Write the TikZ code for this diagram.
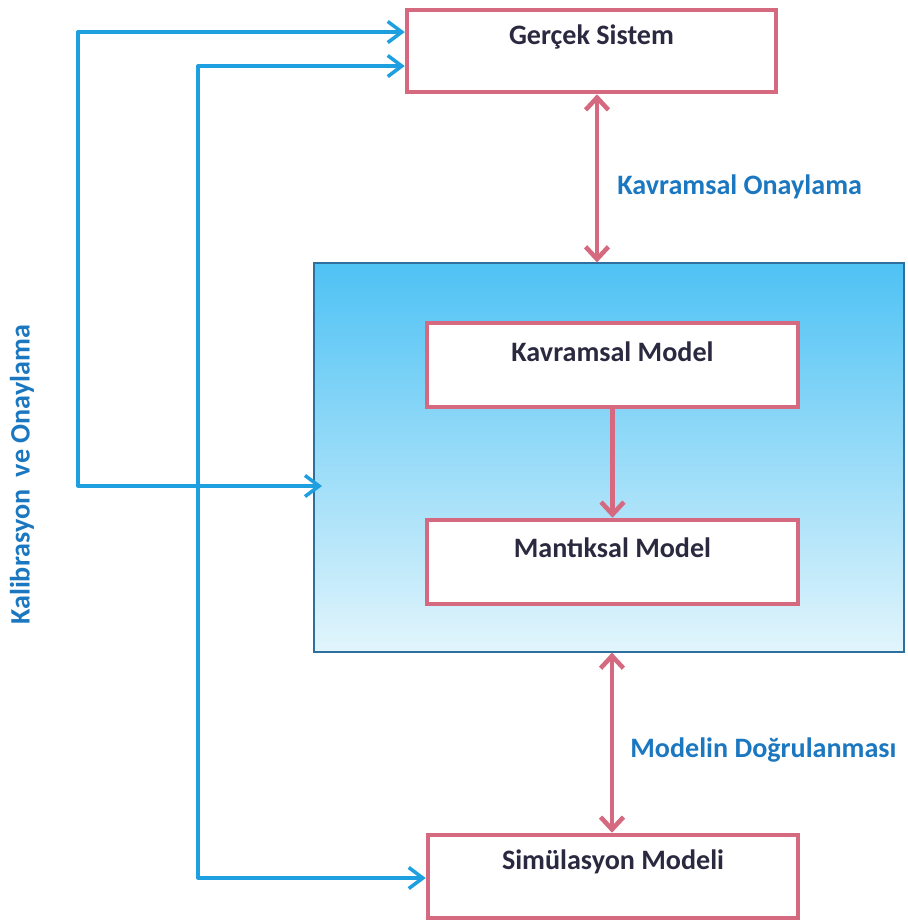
\documentclass[tikz,border=0pt]{standalone}
\usepackage{fontspec}
\setmainfont{Carlito}
\usetikzlibrary{arrows.meta,calc}
\definecolor{boxpink}{HTML}{D4697F}
\definecolor{flowblue}{HTML}{1E9FE0}
\definecolor{labelblue}{HTML}{1B78C0}
\definecolor{boxtext}{HTML}{2A2940}
\definecolor{paneltop}{HTML}{4EC2F4}
\definecolor{panelbot}{HTML}{E2F5FC}
\definecolor{paneledge}{HTML}{2F6F9E}
\begin{document}
\begin{tikzpicture}[x=0.02cm,y=-0.02cm,
  stage/.style={draw=boxpink, line width=2.6pt, fill=white, inner sep=0pt},
  stagetext/.style={font=\fontsize{16}{19}\selectfont\bfseries, text=boxtext, inner sep=0pt},
  tag/.style={font=\fontsize{16}{19}\selectfont\bfseries, text=labelblue, inner sep=0pt},
  flow/.style={draw=flowblue, line width=2pt, line join=round, line cap=round},
  flowtip/.style={flow, -{Straight Barb[length=8pt,width=12pt,line width=2pt]}},
  twoway/.style={draw=boxpink, line width=2.6pt, line cap=round,
    {Straight Barb[length=7pt,width=13pt,line width=2.6pt]}-{Straight Barb[length=7pt,width=13pt,line width=2.6pt]}},
  oneway/.style={draw=boxpink, line width=2.6pt, line cap=round,
    -{Straight Barb[length=7pt,width=13pt,line width=2.6pt]}}
]
\useasboundingbox (0,0) rectangle (908,924);

% shaded panel holding the conceptual and logical models
\node[draw=paneledge, line width=0.7pt, top color=paneltop, bottom color=panelbot,
      minimum width=11.8cm, minimum height=7.78cm, inner sep=0pt] (panel) at (609,457.5) {};

% stage boxes
\node[stage, minimum width=7.38cm, minimum height=1.64cm] (gs) at (591.5,51) {};
\node[stagetext] (gsT) at (591.5,37) {Gerçek Sistem};

\node[stage, minimum width=7.42cm, minimum height=1.68cm] (km) at (612.5,365) {};
\node[stagetext] (kmT) at (612.5,352) {Kavramsal Model};

\node[stage, minimum width=7.42cm, minimum height=1.68cm] (mm) at (612.5,562) {};
\node[stagetext] (mmT) at (612.5,548) {Mantıksal Model};

\node[stage, minimum width=7.40cm, minimum height=1.66cm] (sm) at (613,876.5) {};
\node[stagetext] (smT) at (613,862) {Simülasyon Modeli};

% validation arrows
\coordinate (koX) at (597,0);
\draw[twoway] (gs.south -| koX) -- (panel.north -| koX);
\node[tag, anchor=west] (koL) at (617,187) {Kavramsal Onaylama};

\draw[oneway] (km.south) -- (mm.north);

\coordinate (mdX) at (612,0);
\draw[twoway] (panel.south -| mdX) -- (sm.north -| mdX);
\node[tag, anchor=west] (mdL) at (630,750) {Modelin Doğrulanması};

% calibration loops
\coordinate (outerTop) at (78,32);
\coordinate (outerBend) at (78,486);
\coordinate (panelIn) at (322,486);
\draw[flowtip] (outerBend) -- (outerTop) -- (gs.west |- outerTop);
\draw[flowtip] (outerTop) -- (outerBend) -- (panelIn);

\coordinate (innerTop) at (198,66);
\coordinate (innerBottom) at (198,878);
\draw[flowtip] (innerBottom) -- (innerTop) -- (gs.west |- innerTop);
\draw[flowtip] (innerTop) -- (innerBottom) -- (sm.west |- innerBottom);

\node[tag, rotate=90] (kvL) at (22,475) {Kalibrasyon\ \ ve Onaylama};
\end{tikzpicture}
\end{document}
